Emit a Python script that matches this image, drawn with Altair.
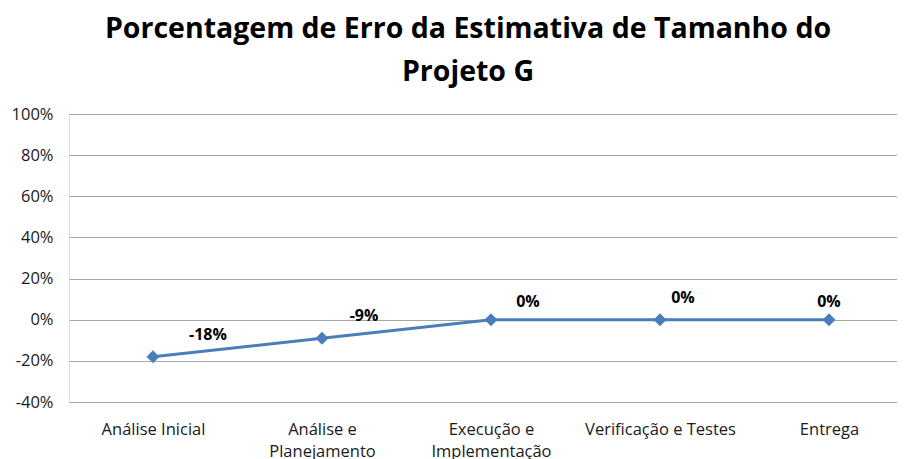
import altair as alt
import pandas as pd

# Data
categories = ["Análise Inicial", "Análise e Planejamento", "Execução e Implementação",
              "Verificação e Testes", "Entrega"]
label_lines = [["Análise Inicial"], ["Análise e", "Planejamento"], ["Execução e", "Implementação"],
               ["Verificação e Testes"], ["Entrega"]]
values = [-0.18, -0.09, 0.0, 0.0, 0.0]
y_ticks = [-0.4, -0.2, 0.0, 0.2, 0.4, 0.6, 0.8, 1.0]

# label placement (pixel offsets of the data labels, as in the original)
label_dx = [55, 42, 37, 23, 0]
label_dy = [-22, -22, -18, -22, -18]

df = pd.DataFrame({"idx": list(range(len(categories))), "fase": categories, "valor": values})

font = "Open Sans"
line_color = "#4a7ebb"

# build label expression for multi-line category labels
expr = "''"
for i in reversed(range(len(label_lines))):
    arr = "[" + ",".join("'" + s + "'" for s in label_lines[i]) + "]"
    expr = f"datum.value == {i} ? {arr} : ({expr})"

x_enc = alt.X("idx:Q",
              scale=alt.Scale(domain=[-0.497, 4.4024], nice=False, zero=False),
              axis=alt.Axis(values=list(range(len(categories))), labelExpr=expr, title=None,
                            grid=False, ticks=False, domain=False, labelFont=font,
                            labelFontSize=16.5, labelColor="#1a1a1a", labelPadding=32,
                            labelLineHeight=22.5, labelBaseline="alphabetic"))
y_enc = alt.Y("valor:Q",
              scale=alt.Scale(domain=[-0.4, 1.0], nice=False, zero=False),
              axis=alt.Axis(values=y_ticks, format=".0%",
                            labelExpr="replace(datum.label, '\u2212', '-')",
                            title=None, grid=True,
                            gridColor="#a6a6a6", gridWidth=1, ticks=False, domain=False,
                            labelFont=font, labelFontSize=16.5, labelColor="#1a1a1a",
                            labelPadding=16))

base = alt.Chart(df).transform_calculate(
    rotulo="replace(format(datum.valor, '.0%'), '\u2212', '-')")
line = base.mark_line(color=line_color, strokeWidth=3).encode(x=x_enc, y=y_enc)
pts = base.mark_point(shape="diamond", filled=True, color=line_color, size=170, opacity=1).encode(
    x="idx:Q", y="valor:Q")

layers = [line, pts]
for i in range(len(categories)):
    t = base.transform_filter(alt.datum.idx == i).mark_text(
        font=font, fontSize=16, fontWeight="bold", color="#000000",
        dx=label_dx[i], dy=label_dy[i]).encode(
        x="idx:Q", y="valor:Q", text="rotulo:N")
    layers.append(t)

chart = alt.layer(*layers).properties(
    width=828, height=288,
    title=alt.TitleParams(["Porcentagem de Erro da Estimativa de Tamanho do", "Projeto G"],
                          font=font, fontSize=28.5, fontWeight="bold", color="#000000",
                          anchor="middle", dx=-15, offset=20, lineHeight=43),
    autosize=alt.AutoSizeParams(type="none"),
    padding={"left": 61, "top": 106, "right": 0, "bottom": 57},
).configure_view(stroke=None).configure(background="white")

chart.save("out.html", embed_options={"renderer": "svg", "actions": False})
